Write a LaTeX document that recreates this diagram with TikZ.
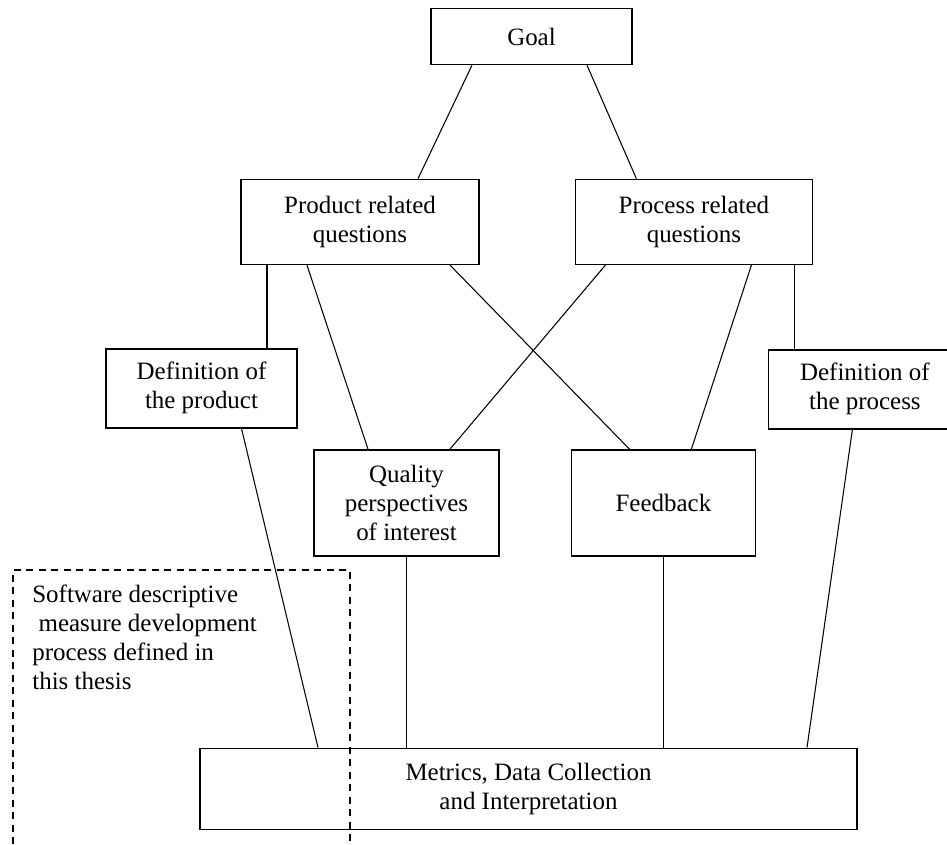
\documentclass[tikz,border=0pt]{standalone}
\usepackage{fontspec}
\setmainfont{Liberation Serif}
\usepackage{tikz}
\usetikzlibrary{positioning,calc}

\begin{document}
\begin{tikzpicture}[
    every node/.style={font=\fontsize{14.2}{16.5}\selectfont},
    component/.style={rectangle, draw=black, line width=0.8pt, align=center, inner sep=2pt},
    link/.style={line width=0.6pt},
    frame/.style={line width=0.8pt, dash pattern=on 0.14cm off 0.11cm}
]
\useasboundingbox (0,0) rectangle (18.94,-16.88);

% Top layer: Goal
\node[component, minimum width=4.02cm, minimum height=1.12cm] (goal) at (10.63,-0.73) {Goal};

% Question layer
\node[component, below=2.27cm of goal, xshift=-3.43cm, minimum width=4.76cm, minimum height=1.7cm] (prodq) {
    Product related \\
    questions
};
\node[component, right=1.9cm of prodq, minimum width=4.74cm, minimum height=1.7cm] (procq) {
    Process related \\
    questions
};

% Definitions (left and right)
\node[component, below=1.66cm of prodq, xshift=-3.17cm, minimum width=3.82cm, minimum height=1.58cm] (defprod) {
    Definition of \\
    the product
};
\node[component, below=1.68cm of procq, xshift=3.42cm, minimum width=3.86cm, minimum height=1.58cm] (defproc) {
    Definition of \\
    the process
};

% Quality perspectives and feedback (center)
\node[component, below=3.68cm of prodq, xshift=0.93cm, minimum width=3.7cm, minimum height=2.12cm] (quality) {
    Quality \\
    perspectives \\
    of interest
};
\node[component, right=1.42cm of quality, minimum width=3.68cm, minimum height=2.12cm] (feedback) {Feedback};

% Bottom layer: Metrics
\node[component, below=3.82cm of quality, xshift=2.44cm, minimum width=13.14cm, minimum height=1.62cm] (metrics) {
    Metrics, Data Collection \\
    and Interpretation
};

% Goal to questions
\draw[link] ([xshift=-1.19cm]goal.south) -- ([xshift=1.16cm]prodq.north);
\draw[link] ([xshift=1.11cm]goal.south) -- ([xshift=-1.15cm]procq.north);

% Product related questions
\draw[link] ([xshift=-1.86cm]prodq.south) -- ([xshift=1.31cm]defprod.north);
\draw[link] ([xshift=-1.06cm]prodq.south) -- ([xshift=-0.77cm]quality.north);
\draw[link] ([xshift=1.8cm]prodq.south) -- ([xshift=-0.68cm]feedback.north);

% Process related questions
\draw[link] ([xshift=-1.77cm]procq.south) -- ([xshift=0.87cm]quality.north);
\draw[link] ([xshift=1.15cm]procq.south) -- ([xshift=0.56cm]feedback.north);
\draw[link] ([xshift=2.01cm]procq.south) -- ([xshift=-1.41cm]defproc.north);

% Down to metrics
\draw[link] ([xshift=0.8cm]defprod.south) -- ([xshift=-4.21cm]metrics.north);
\draw[link] (quality.south) -- (quality.south |- metrics.north);
\draw[link] (feedback.south) -- (feedback.south |- metrics.north);
\draw[link] ([xshift=-0.25cm]defproc.south) -- ([xshift=5.57cm]metrics.north);

% Scope of this thesis (dashed frame, open at the bottom)
\coordinate (frame-sw) at (0.26,-16.88);
\coordinate (frame-se) at (7.0,-16.88);
\draw[frame] (frame-sw) |- (7.0,-11.4) -- (frame-se);
\node[anchor=north west, inner sep=0pt, align=left] (note) at (0.64,-11.7) {
    Software descriptive \\
    \hspace*{0.25em}measure development \\
    process defined in \\
    this thesis
};

\end{tikzpicture}
\end{document}
